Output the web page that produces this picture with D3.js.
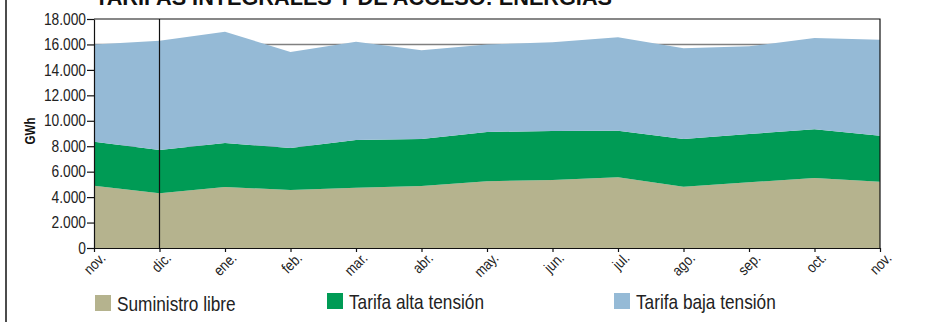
<!DOCTYPE html>
<html>
<head>
<meta charset="utf-8">
<script src="https://cdn.jsdelivr.net/npm/d3@7"></script>
<style>
  html, body { margin: 0; padding: 0; background: #fff; }
  svg { display: block; }
  text { font-family: "Liberation Sans Narrow", "Arial Narrow", "Liberation Sans", sans-serif; }
</style>
</head>
<body>
<svg id="chart" width="927" height="322"></svg>
<script>
// Monthly energy (GWh) by supply type
const months = ["nov.", "dic.", "ene.", "feb.", "mar.", "abr.", "may.", "jun.", "jul.", "ago.", "sep.", "oct.", "nov."];
const suministroLibre = [4900, 4300, 4790, 4560, 4740, 4870, 5250, 5340, 5560, 4820, 5160, 5500, 5210];
const tarifaAlta      = [3450, 3400, 3460, 3300, 3750, 3700, 3870, 3860, 3660, 3750, 3800, 3830, 3620];
const tarifaBaja      = [7650, 8600, 8750, 7540, 7730, 6970, 6880, 6970, 7340, 7130, 6890, 7170, 7540];
const yTicks = [0, 2000, 4000, 6000, 8000, 10000, 12000, 14000, 16000, 18000];
const seriesNames = ["Suministro libre", "Tarifa alta tensión", "Tarifa baja tensión"];
const seriesColors = ["#b5b38e", "#009b55", "#95bad6"];

const svg = d3.select("#chart");
const plotLeft = 94, plotRight = 880, plotTop = 19, plotBottom = 248;

const x = d3.scaleLinear().domain([0, months.length - 1]).range([plotLeft, plotRight]);
const y = d3.scaleLinear().domain([0, 18000]).range([plotBottom, plotTop]);

const es = d3.formatLocale({ decimal: ",", thousands: ".", grouping: [3], currency: ["", ""] });
const fmt = es.format(",");

// squeeze text horizontally to get a condensed face
function condense(sel, factor) {
  sel.each(function () {
    const w = this.getComputedTextLength();
    d3.select(this).attr("textLength", w * factor).attr("lengthAdjust", "spacingAndGlyphs");
  });
}

// figure frame on the left
svg.append("line").attr("x1", 6).attr("x2", 6).attr("y1", 0).attr("y2", 322)
  .attr("stroke", "#111").attr("stroke-width", 1.5);

// title
svg.append("text").attr("x", 95).attr("y", 5)
  .attr("font-size", 22).attr("font-weight", "bold").attr("fill", "#111")
  .attr("textLength", 517).attr("lengthAdjust", "spacingAndGlyphs")
  .text("TARIFAS INTEGRALES Y DE ACCESO: ENERGÍAS");

// gridlines behind the areas
svg.append("g").selectAll("line").data(yTicks.filter(v => v > 0 && v < 18000)).join("line")
  .attr("x1", plotLeft).attr("x2", plotRight)
  .attr("y1", d => y(d)).attr("y2", d => y(d))
  .attr("stroke", "#808080").attr("stroke-width", 1.5);

// stacked areas
const rows = months.map((m, i) => ({ i, libre: suministroLibre[i], alta: tarifaAlta[i], baja: tarifaBaja[i] }));
const stack = d3.stack().keys(["libre", "alta", "baja"]);
const layers = stack(rows);
const area = d3.area()
  .x(d => x(d.data.i))
  .y0(d => y(d[0]))
  .y1(d => y(d[1]));
svg.append("g").selectAll("path").data(layers).join("path")
  .attr("d", area)
  .attr("fill", (d, i) => seriesColors[i]);

// plot frame: top and right edges, plus marker line at the second month
svg.append("path")
  .attr("d", `M${plotLeft},${plotTop}H${plotRight}V${plotBottom}`)
  .attr("fill", "none").attr("stroke", "#111").attr("stroke-width", 1.2);
svg.append("line").attr("x1", x(1)).attr("x2", x(1)).attr("y1", plotTop).attr("y2", plotBottom)
  .attr("stroke", "#111").attr("stroke-width", 1.2);

// y axis
const yAxis = svg.append("g").attr("transform", `translate(${plotLeft},0)`)
  .call(d3.axisLeft(y).tickValues(yTicks).tickFormat(fmt).tickSize(7).tickSizeOuter(0).tickPadding(1));
yAxis.selectAll("text").attr("font-size", 16).attr("fill", "#222")
  .attr("font-family", "'Liberation Sans Narrow', 'Arial Narrow', 'Liberation Sans', sans-serif")
  .call(condense, 0.86);
yAxis.selectAll("line, path").attr("stroke", "#111").attr("stroke-width", 1.2);

// x axis
const xAxis = svg.append("g").attr("transform", `translate(0,${plotBottom})`)
  .call(d3.axisBottom(x).tickValues(d3.range(months.length)).tickFormat(i => months[i]).tickSize(4).tickSizeOuter(0));
xAxis.selectAll("line, path").attr("stroke", "#111").attr("stroke-width", 1.2);
xAxis.selectAll("text")
  .attr("font-size", 15).attr("fill", "#222")
  .attr("font-family", "'Liberation Sans Narrow', 'Arial Narrow', 'Liberation Sans', sans-serif")
  .attr("text-anchor", "end")
  .attr("dy", null)
  .attr("y", 0)
  .attr("transform", "translate(12,11) rotate(-45)")
  .call(condense, 0.86);

// y axis title
svg.append("text")
  .attr("transform", "translate(35,131) rotate(-90)")
  .attr("text-anchor", "middle")
  .attr("font-size", 14).attr("font-weight", "bold").attr("fill", "#111")
  .text("GWh")
  .call(condense, 0.82);

// legend
const legendX = [95, 327, 614];
const legendY = [295, 293, 293];
const legend = svg.append("g").selectAll("g").data(seriesNames).join("g")
  .attr("transform", (d, i) => `translate(${legendX[i]},${legendY[i]})`);
legend.append("rect").attr("width", 16).attr("height", 16)
  .attr("fill", (d, i) => seriesColors[i]);
legend.append("text").attr("x", 22).attr("y", 16)
  .attr("font-size", 21).attr("fill", "#222")
  .text(d => d)
  .call(condense, 0.82);
</script>
</body>
</html>
